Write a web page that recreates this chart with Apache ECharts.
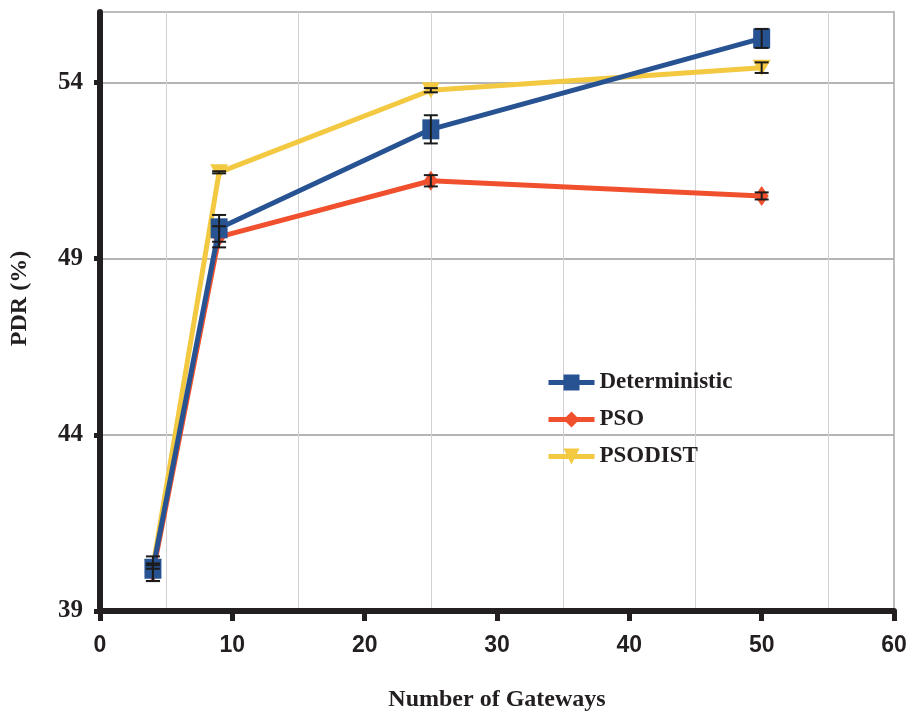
<!DOCTYPE html>
<html>
<head>
<meta charset="utf-8">
<title>PDR vs Number of Gateways</title>
<script src="https://cdn.jsdelivr.net/npm/echarts@6/dist/echarts.min.js"></script>
<style>
  html, body { margin: 0; padding: 0; background: #ffffff; }
  #chart { width: 907px; height: 713px; }
</style>
</head>
<body>
<div id="chart"></div>
<script>
// Number of gateways (x values)
const gateways = [4, 9, 25, 50];

// Packet delivery ratio (%) per method, with error half-widths
const deterministic = [40.2, 49.86, 52.67, 55.25];
const deterministicErr = [0.35, 0.38, 0.4, 0.27];

const pso = [40.1, 49.62, 51.21, 50.78];
const psoErr = [0.25, 0.3, 0.16, 0.1];

const psodist = [40.25, 51.45, 53.78, 54.42];
const psodistErr = [0.05, 0.03, 0.06, 0.15];

const seriesNames = ['Deterministic', 'PSO', 'PSODIST'];
const colors = ['#285393', '#f0502d', '#f2c940'];

const yTicks = [39, 44, 49, 54];

const serif = '"Liberation Serif", "Times New Roman", serif';
const ink = '#231f20';

function pairs(values) {
  return gateways.map((g, i) => [g, values[i]]);
}
function errPairs(values, errs) {
  return gateways.map((g, i) => [g, values[i] - errs[i], values[i] + errs[i]]);
}

// Vertical error bar with caps, drawn in data coordinates
function renderErrorBar(params, api) {
  const x = api.value(0);
  const lo = api.coord([x, api.value(1)]);
  const hi = api.coord([x, api.value(2)]);
  const half = 7;
  const style = { stroke: '#1b1b1b', lineWidth: 2 };
  return {
    type: 'group',
    children: [
      { type: 'line', shape: { x1: lo[0], y1: lo[1], x2: hi[0], y2: hi[1] }, style },
      { type: 'line', shape: { x1: lo[0] - half, y1: lo[1], x2: lo[0] + half, y2: lo[1] }, style },
      { type: 'line', shape: { x1: hi[0] - half, y1: hi[1], x2: hi[0] + half, y2: hi[1] }, style }
    ]
  };
}

const chart = echarts.init(document.getElementById('chart'), null, { renderer: 'canvas' });

const lineBase = {
  type: 'line',
  lineStyle: { width: 5 },
  emphasis: { disabled: true },
  animation: false
};

chart.setOption({
  backgroundColor: '#ffffff',
  animation: false,
  color: colors,
  grid: {
    left: 100, right: 13, top: 12, bottom: 102,
    outerBoundsMode: 'none',
    containLabel: false,
    show: true, borderColor: '#bdbdc0', borderWidth: 2, backgroundColor: 'transparent'
  },
  legend: {
    orient: 'vertical',
    left: 541,
    top: 366,
    itemWidth: 46,
    itemHeight: 20,
    itemGap: 14,
    data: seriesNames,
    lineStyle: { width: 5 },
    textStyle: { fontFamily: serif, fontWeight: 'bold', fontSize: 23, color: ink }
  },
  xAxis: {
    type: 'value',
    min: 0, max: 60, interval: 10,
    name: 'Number of Gateways',
    nameLocation: 'middle',
    nameGap: 77,
    nameTextStyle: { fontFamily: serif, fontWeight: 'bold', fontSize: 24, color: ink },
    axisLine: { show: true, onZero: false, lineStyle: { color: ink, width: 6 } },
    axisTick: { show: true, length: 10, lineStyle: { color: ink, width: 5 } },
    axisLabel: {
      margin: 23,
      fontFamily: '"Liberation Sans Narrow", "Liberation Sans", sans-serif',
      fontWeight: 'bold', fontSize: 23, color: ink
    },
    splitLine: { show: false },
    minorTick: { show: false, splitNumber: 2 },
    minorSplitLine: { show: true, lineStyle: { color: '#d2d2d4', width: 1 } }
  },
  yAxis: {
    type: 'value',
    min: yTicks[0], max: 56, interval: 5,
    name: 'PDR (%)',
    nameLocation: 'middle',
    nameGap: 68,
    nameRotate: 90,
    nameTextStyle: { fontFamily: serif, fontWeight: 'bold', fontSize: 24, color: ink, padding: [0, 0, 0, 26] },
    axisLine: { show: true, onZero: false, lineStyle: { color: ink, width: 6 } },
    axisTick: { show: true, length: 6, customValues: yTicks, lineStyle: { color: ink, width: 5 } },
    axisLabel: {
      margin: 17,
      customValues: yTicks,
      fontFamily: serif, fontWeight: 'bold', fontSize: 25, color: ink
    },
    splitLine: { show: true, lineStyle: { color: '#b4b4b7', width: 2 } }
  },
  series: [
    Object.assign({}, lineBase, {
      name: 'PSODIST', data: pairs(psodist), z: 3,
      symbol: 'triangle', symbolRotate: 180, symbolSize: [18, 16],
      itemStyle: { color: colors[2] }, lineStyle: { width: 5, color: colors[2] }
    }),
    Object.assign({}, lineBase, {
      name: 'PSO', data: pairs(pso), z: 4,
      symbol: 'diamond', symbolSize: [14, 20],
      itemStyle: { color: colors[1] }, lineStyle: { width: 5, color: colors[1] }
    }),
    Object.assign({}, lineBase, {
      name: 'Deterministic', data: pairs(deterministic), z: 5,
      symbol: 'rect', symbolSize: [17, 20],
      itemStyle: { color: colors[0] }, lineStyle: { width: 5, color: colors[0] }
    }),
    { type: 'custom', name: 'psodistErr', data: errPairs(psodist, psodistErr), renderItem: renderErrorBar, z: 10, silent: true },
    { type: 'custom', name: 'psoErr', data: errPairs(pso, psoErr), renderItem: renderErrorBar, z: 10, silent: true },
    { type: 'custom', name: 'deterministicErr', data: errPairs(deterministic, deterministicErr), renderItem: renderErrorBar, z: 10, silent: true }
  ]
});
</script>
</body>
</html>
